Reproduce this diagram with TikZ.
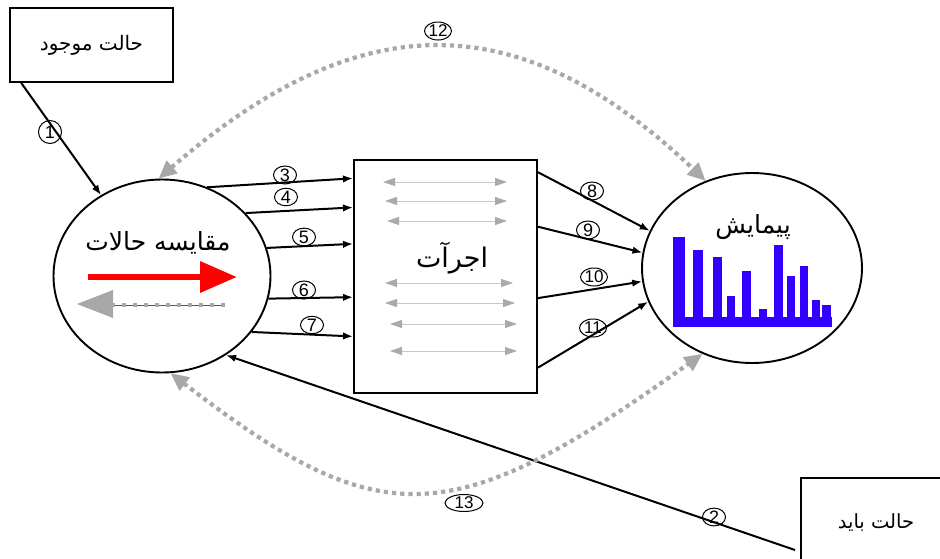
\documentclass[tikz,border=0pt]{standalone}
\usepackage{fontspec}
\setmainfont{Liberation Sans}
\newfontfamily\arabicfont[Script=Arabic]{DejaVu Sans}
\TeXXeTstate=1
\usetikzlibrary{arrows.meta,shapes.geometric,calc}
\definecolor{barblue}{RGB}{51,0,255}
\definecolor{arcgray}{RGB}{168,168,168}
\definecolor{tipgray}{RGB}{170,170,170}
\definecolor{linegray}{RGB}{200,200,200}
\begin{document}
\begin{tikzpicture}[x=1pt,y=-1pt,
  conn/.style={line width=2pt,-{Latex[length=10pt,width=7.5pt]}},
  boxst/.style={draw,line width=1.9pt,inner sep=0,rectangle},
  ovst/.style={draw,ellipse,line width=1.9pt,inner sep=0},
  numlab/.style={draw,ellipse,line width=1pt,inner sep=0pt,minimum width=23pt,minimum height=17pt,font=\fontsize{18}{18}\selectfont},
  numlabw/.style={numlab,minimum width=27pt,minimum height=18pt,font=\fontsize{17}{17}\selectfont},
  dblarrow/.style={draw=linegray,line width=0.9pt,{Triangle[length=12pt,width=8pt,color=tipgray]}-{Triangle[length=12pt,width=8pt,color=tipgray]}},
  arcst/.style={draw=arcgray,line width=4.2pt,dash pattern=on 4.2pt off 4pt,{Triangle[length=18pt,width=16pt]}-{Triangle[length=18pt,width=16pt]}},
  bigtext/.style={font=\arabicfont\fontsize{25}{28}\selectfont},
  smalltext/.style={font=\arabicfont\fontsize{20}{22}\selectfont},
  barst/.style={fill=barblue,draw=none}]
\useasboundingbox (0,0) rectangle (940,558);
\fill[white] (0,0) rectangle (940,558);

% main nodes
\node[boxst,minimum width=163pt,minimum height=74pt,smalltext] (cur) at (91.5,45) {\beginR حالت موجود\endR};
\node[ovst,minimum width=217pt,minimum height=193pt] (cmp) at (162,276) {};
\node[boxst,minimum width=183pt,minimum height=233pt] (exe) at (445.5,276.5) {};
\node[ovst,minimum width=220pt,minimum height=190pt] (meas) at (752,268) {};
\node[boxst,minimum width=150pt,minimum height=90pt,font=\arabicfont\fontsize{19.5}{22}\selectfont] (goal) at (876,523) {\beginR حالت باید\endR};
\coordinate (g2) at (795,550);

% texts inside
\node[bigtext] (cmptext) at (158,243) {\beginR مقایسه حالات\endR};
\node[bigtext,font=\arabicfont\fontsize{27}{30}\selectfont] (exetext) at (452,258) {\beginR اجرآت\endR};
\node[bigtext] (meastext) at (753,227) {\beginR پیمایش\endR};

% red and gray arrows in the comparison circle
\draw[red,line width=6.5pt,-{Triangle[length=37pt,width=30pt]}] (88,277) -- (237,277);
\draw[gray!70!black,line width=0.9pt] (225,305) -- (110,305);
\draw[arcgray,line width=4.5pt,dash pattern=on 4pt off 7pt] (225,305) -- (110,305);
\fill[arcgray] (77,304) -- (113,290) -- (113,318) -- cycle;

% double arrows in the execution box
\draw[dblarrow] (383,182) -- (507,182);
\draw[dblarrow] (385,201) -- (507,201);
\draw[dblarrow] (387,221) -- (507,221);
\draw[dblarrow] (385,283) -- (513,283);
\draw[dblarrow] (385,303) -- (515,303);
\draw[dblarrow] (390,324) -- (517,324);
\draw[dblarrow] (390,351) -- (517,351);

% bar chart
\fill[barst] (673,317) rectangle (832,327);
\fill[barst] (673,237) rectangle (685,317);
\fill[barst] (693,250) rectangle (703,317);
\fill[barst] (713,257) rectangle (722,317);
\fill[barst] (727,296) rectangle (735,317);
\fill[barst] (742,271) rectangle (751,317);
\fill[barst] (759,309) rectangle (767,317);
\fill[barst] (774,245) rectangle (783,317);
\fill[barst] (787,276) rectangle (795,317);
\fill[barst] (800,266) rectangle (808,317);
\fill[barst] (812,300) rectangle (820,317);
\fill[barst] (822,305) rectangle (831,317);

% connectors
\draw[conn] ($(cur.south west)!0.074!(cur.south east)$) -- (cmp.127);
\draw[conn] (g2) -- (cmp.-51);
\draw[conn] (cmp.63) -- ($(exe.north west)!0.082!(exe.south west)$);
\draw[conn] (cmp.37) -- ($(exe.north west)!0.206!(exe.south west)$);
\draw[conn] (cmp.15) -- ($(exe.north west)!0.361!(exe.south west)$);
\draw[conn] (cmp.-12) -- ($(exe.north west)!0.588!(exe.south west)$);
\draw[conn] (cmp.-32) -- ($(exe.north west)!0.755!(exe.south west)$);
\draw[conn] ($(exe.north east)!0.056!(exe.south east)$) -- (meas.160);
\draw[conn] ($(exe.north east)!0.288!(exe.south east)$) -- (meas.172);
\draw[conn] ($(exe.north east)!0.592!(exe.south east)$) -- (meas.187);
\draw[conn] ($(exe.north east)!0.888!(exe.south east)$) -- (meas.198);

% dotted arcs
\draw[arcst] (cmp.92) .. controls (360,4) and (520,4) .. (meas.118);
\draw[arcst] (cmp.-85) .. controls (380,534) and (450,534) .. (meas.-120);

% number labels
\node[numlab,minimum width=23pt,minimum height=23pt] (n1) at (50,132) {1};
\node[numlab] (n2) at (714,517) {2};
\node[numlab] (n3) at (285,175) {3};
\node[numlab] (n4) at (286,197) {4};
\node[numlab] (n5) at (304,237) {5};
\node[numlab] (n6) at (304,290) {6};
\node[numlab] (n7) at (312,325) {7};
\node[numlab] (n8) at (592,191) {8};
\node[numlab] (n9) at (588,230) {9};
\node[numlabw] (n10) at (594,277) {10};
\node[numlabw] (n11) at (593,328) {11};
\node[numlabw] (n12) at (438,31) {12};
\node[numlabw,minimum width=38pt,minimum height=17pt] (n13) at (464,503) {13};
\end{tikzpicture}
\end{document}
